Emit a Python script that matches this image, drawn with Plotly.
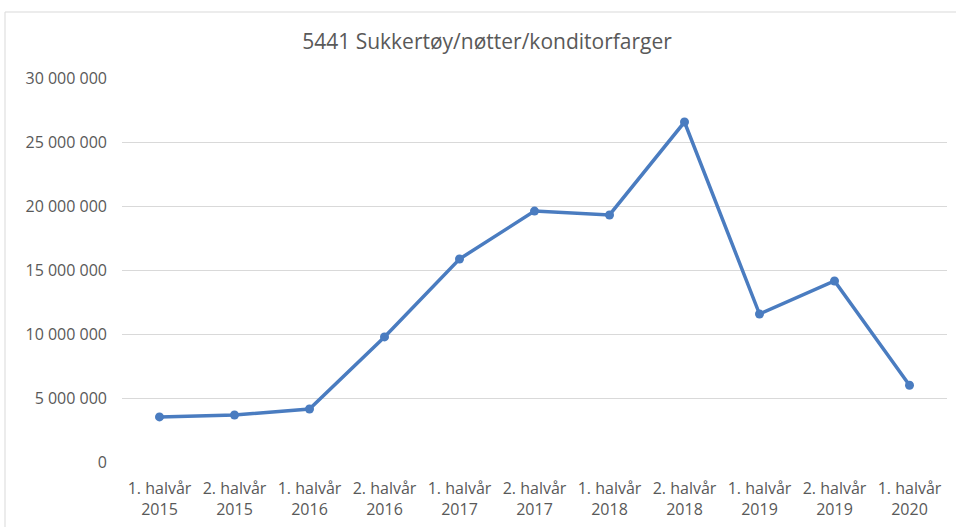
import plotly.graph_objects as go

periods = ["1. halvår", "2. halvår", "1. halvår", "2. halvår", "1. halvår", "2. halvår",
           "1. halvår", "2. halvår", "1. halvår", "2. halvår", "1. halvår"]
years = ["2015", "2015", "2016", "2016", "2017", "2017", "2018", "2018", "2019", "2019", "2020"]
values = [3520000, 3670000, 4140000, 9770000, 15860000, 19600000, 19300000, 26560000,
          11560000, 14140000, 6000000]
y_ticks = [0, 5000000, 10000000, 15000000, 20000000, 25000000, 30000000]

cats = [f"{p} {y}" for p, y in zip(periods, years)]
ticktext = [f"{p}<br>{y}" for p, y in zip(periods, years)]

W, H = 956, 527
L, R, T, B = 122, 9, 78, 65

fig = go.Figure()
fig.add_trace(go.Scatter(
    x=cats, y=values, mode="lines+markers",
    line=dict(color="#4a7cc0", width=3.5),
    marker=dict(color="#4a7cc0", size=9),
    hoverinfo="skip",
))

pw = W - L - R
ph = H - T - B
fig.add_shape(type="rect", xref="paper", yref="paper",
              x0=(5 - L) / pw, x1=(W + 20 - L) / pw,
              y0=(H - B - (H + 20)) / ph, y1=(H - B - 12) / ph,
              line=dict(color="#d9d9d9", width=1), fillcolor="rgba(0,0,0,0)", layer="below")

fig.update_layout(
    width=W, height=H,
    margin=dict(l=L, r=R, t=T, b=B, pad=0),
    paper_bgcolor="white", plot_bgcolor="white",
    showlegend=False,
    separators=", ",
    font=dict(family="Open Sans, sans-serif", color="#595959", size=14),
    title=dict(text="5441 Sukkertøy/nøtter/konditorfarger",
               x=487 / W, xanchor="center", y=1 - 42 / H, yanchor="middle",
               yref="container", font=dict(size=21, color="#595959")),
    xaxis=dict(type="category", tickmode="array", tickvals=cats, ticktext=ticktext,
               showgrid=False, zeroline=False, showline=False, ticks="",
               tickfont=dict(size=16, color="#595959"), range=[-0.5, len(cats) - 0.5],
               tickangle=0, ticklabelstandoff=15, automargin=False),
    yaxis=dict(range=[0, 30000000], tickmode="array", tickvals=y_ticks,
               tickformat=",d", showgrid=True, gridcolor="#d9d9d9", gridwidth=1,
               zeroline=False, showline=False, ticks="", ticklabelstandoff=14,
               tickfont=dict(size=16, color="#595959"), automargin=False),
)

fig.write_html("out.html", config={"displayModeBar": False},
               post_script="document.body.style.margin='0';document.body.style.overflow='hidden';")
